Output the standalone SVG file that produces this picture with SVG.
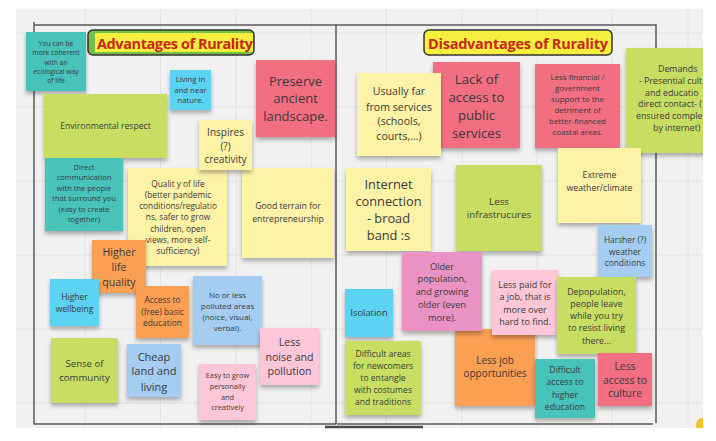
<svg xmlns="http://www.w3.org/2000/svg" width="716" height="441" viewBox="0 0 716 441">
<style>
text{font-family:"Open Sans","Liberation Sans",sans-serif;fill:#3a3a3a;text-anchor:middle;dominant-baseline:central}
.teal{fill:#47c3ba}
.lime{fill:#c8de62}
.cyan{fill:#5bd3f2}
.red{fill:#f26e81}
.yel{fill:#fdf3a7}
.org{fill:#fb9f52}
.blu{fill:#a5cdf2}
.pnk{fill:#fdc7d8}
.mau{fill:#ea92c3}
.note rect{filter:url(#sh)}
.fr{stroke:#5a5a5a;stroke-width:1.5;fill:none}
.grid{stroke:#e2e2e2;stroke-width:1}
.ttl{font-weight:bold;fill:#c8281e;font-size:14.5px}
</style>
<defs>
<filter id="sh" x="-10%" y="-10%" width="120%" height="135%">
<feDropShadow dx="0" dy="3" stdDeviation="2" flood-color="#000" flood-opacity="0.3"/>
</filter>
<clipPath id="cv"><rect x="16" y="9" width="687" height="419"/></clipPath>
</defs>
<rect width="716" height="441" fill="#ffffff"/>
<rect x="16" y="9" width="687" height="419" fill="#f1f1f1"/>
<g id="grid" class="grid" clip-path="url(#cv)">
<path d="M85 9V428M160.5 9V428M236 9V428M311 9V428M386.5 9V428M462 9V428M537 9V428M612 9V428M688 9V428M16 33H703M16 107H703M16 181H703M16 255H703M16 329H703M16 403H703"/>
</g>
<g id="frame">
<path class="fr" d="M34 22V424H336M34 25H656V423M336 25V424M337 424H653"/>
<path d="M325 427H423" stroke="#4a4a4a" stroke-width="2.5"/>
<circle cx="703" cy="425" r="7" fill="#f5c21e" clip-path="url(#cv)"/>
</g>
<g id="title-adv">
<rect x="88" y="30" width="166" height="25" rx="5" fill="#74c044" stroke="#333" stroke-width="1.5"/>
<rect x="95" y="33" width="158" height="19" fill="#f6ef3d"/>
<text class="ttl" x="175" y="43" textLength="156">Advantages of Rurality</text>
</g>
<g id="title-dis">
<rect x="424" y="30" width="188" height="25" rx="5" fill="#f6ef3d" stroke="#333" stroke-width="1.5"/>
<text class="ttl" x="518" y="43" textLength="180">Disadvantages of Rurality</text>
</g>
<g id="connectors"></g>

<g id="n1" class="note"><rect class="teal" x="26" y="32" width="60" height="59"/>
<text font-size="6.8"><tspan x="56" y="43">You can be</tspan><tspan x="56" y="52">more coherent</tspan><tspan x="56" y="62">with an</tspan><tspan x="56" y="71">ecological way</tspan><tspan x="56" y="80">of life</tspan></text></g>
<g id="n2" class="note"><rect class="lime" x="44" y="94" width="123" height="64"/>
<text font-size="8.6" x="105.5" y="126">Environmental respect</text></g>
<g id="n3" class="note"><rect class="cyan" x="170" y="70" width="41" height="40"/>
<text font-size="7.8"><tspan x="190.5" y="79">Living in</tspan><tspan x="190.5" y="90">and near</tspan><tspan x="190.5" y="100">nature.</tspan></text></g>
<g id="n4" class="note"><rect class="red" x="256" y="60" width="79" height="77"/>
<text font-size="13"><tspan x="295.5" y="81">Preserve</tspan><tspan x="295.5" y="98">ancient</tspan><tspan x="295.5" y="116">landscape.</tspan></text></g>
<g id="n6" class="note"><rect class="teal" x="45" y="158" width="78" height="73"/>
<text font-size="7.5"><tspan x="84" y="167">Direct</tspan><tspan x="84" y="177">communication</tspan><tspan x="84" y="188">with the people</tspan><tspan x="84" y="198">that surround you</tspan><tspan x="84" y="209">(easy to create</tspan><tspan x="84" y="219">together)</tspan></text></g>
<g id="n7" class="note"><rect class="yel" x="128" y="168" width="99" height="98"/>
<text font-size="8.3"><tspan x="178" y="183">Qualit y of life</tspan><tspan x="178" y="194">(better pandemic</tspan><tspan x="178" y="205">conditions/regulatio</tspan><tspan x="178" y="216">ns, safer to grow</tspan><tspan x="178" y="228">children, open</tspan><tspan x="178" y="239">views, more self-</tspan><tspan x="178" y="250">sufficiency)</tspan></text></g>
<g id="n8" class="note"><rect class="yel" x="242" y="168" width="92" height="90"/>
<text font-size="8.7"><tspan x="288" y="206">Good terrain for</tspan><tspan x="288" y="219">entrepreneurship</tspan></text></g>
<g id="n5" class="note"><rect class="yel" x="199" y="120" width="53" height="50"/>
<text font-size="10"><tspan x="225.5" y="132">Inspires</tspan><tspan x="225.5" y="146">(?)</tspan><tspan x="225.5" y="159">creativity</tspan></text></g>
<g id="n9" class="note"><rect class="org" x="92" y="240" width="54" height="53"/>
<text font-size="10.6"><tspan x="119" y="252">Higher</tspan><tspan x="119" y="267">life</tspan><tspan x="119" y="282">quality</tspan></text></g>
<g id="n10" class="note"><rect class="cyan" x="50" y="279" width="49" height="47"/>
<text font-size="8.5"><tspan x="74.5" y="296">Higher</tspan><tspan x="74.5" y="308">wellbeing</tspan></text></g>
<g id="n11" class="note"><rect class="org" x="136" y="286" width="53" height="52"/>
<text font-size="8.4"><tspan x="162.5" y="299">Access to</tspan><tspan x="162.5" y="311">(free) basic</tspan><tspan x="162.5" y="322">education</tspan></text></g>
<g id="n12" class="note"><rect class="blu" x="193" y="276" width="69" height="69"/>
<text font-size="8"><tspan x="227.5" y="294">No or less</tspan><tspan x="227.5" y="305">polluted areas</tspan><tspan x="227.5" y="316">(noice, visual,</tspan><tspan x="227.5" y="327">verbal).</tspan></text></g>
<g id="n13" class="note"><rect class="pnk" x="260" y="328" width="59" height="57"/>
<text font-size="10.6"><tspan x="289.5" y="342">Less</tspan><tspan x="289.5" y="357">noise and</tspan><tspan x="289.5" y="371">pollution</tspan></text></g>
<g id="n14" class="note"><rect class="lime" x="51" y="338" width="67" height="65"/>
<text font-size="9.6"><tspan x="84.5" y="363">Sense of</tspan><tspan x="84.5" y="377">community</tspan></text></g>
<g id="n15" class="note"><rect class="blu" x="127" y="344" width="54" height="53"/>
<text font-size="11"><tspan x="154" y="356">Cheap</tspan><tspan x="154" y="370">land and</tspan><tspan x="154" y="386">living</tspan></text></g>
<g id="n16" class="note"><rect class="pnk" x="199" y="364" width="57" height="56"/>
<text font-size="7.4"><tspan x="227.5" y="375">Easy to grow</tspan><tspan x="227.5" y="386">personally</tspan><tspan x="227.5" y="397">and</tspan><tspan x="227.5" y="407">creatively</tspan></text></g>

<g id="n18" class="note"><rect class="red" x="433" y="62" width="87" height="86"/>
<text font-size="13.2"><tspan x="476.5" y="79">Lack of</tspan><tspan x="476.5" y="97">access to</tspan><tspan x="476.5" y="115">public</tspan><tspan x="476.5" y="133">services</tspan></text></g>
<g id="n17" class="note"><rect class="yel" x="357" y="73" width="84" height="83"/>
<text font-size="10.6"><tspan x="399" y="91">Usually far</tspan><tspan x="399" y="107">from services</tspan><tspan x="399" y="121">(schools,</tspan><tspan x="399" y="136">courts,...)</tspan></text></g>
<g id="n19" class="note"><rect class="red" x="535" y="64" width="85" height="84"/>
<text font-size="7.9"><tspan x="577.5" y="77">Less financial /</tspan><tspan x="577.5" y="88">government</tspan><tspan x="577.5" y="99">support to the</tspan><tspan x="577.5" y="110">detriment of</tspan><tspan x="577.5" y="121">better-financed</tspan><tspan x="577.5" y="132">coastal areas.</tspan></text></g>
<g id="n20" class="note" clip-path="url(#cv)"><rect class="lime" x="626" y="48" width="90" height="105"/>
<text font-size="8.8" style="text-anchor:start"><tspan x="658" y="69">Demands</tspan><tspan x="639" y="81">- Presential cult</tspan><tspan x="645" y="93">and educatio</tspan><tspan x="638" y="104">direct contact- (</tspan><tspan x="636" y="116">ensured  comple</tspan><tspan x="653" y="128">by internet)</tspan></text></g>
<g id="n21" class="note"><rect class="yel" x="346" y="168" width="85" height="83"/>
<text font-size="12.8"><tspan x="388.5" y="184">Internet</tspan><tspan x="388.5" y="201">connection</tspan><tspan x="388.5" y="218">- broad</tspan><tspan x="388.5" y="235">band :s</tspan></text></g>
<g id="n22" class="note"><rect class="lime" x="456" y="165" width="86" height="86"/>
<text font-size="9.8"><tspan x="499" y="201">Less</tspan><tspan x="499" y="214">infrastrucures</tspan></text></g>
<g id="n23" class="note"><rect class="yel" x="558" y="148" width="83" height="75"/>
<text font-size="8.7"><tspan x="599.5" y="175">Extreme</tspan><tspan x="599.5" y="188">weather/climate</tspan></text></g>
<g id="n24" class="note"><rect class="blu" x="598" y="225" width="54" height="52"/>
<text font-size="8.4"><tspan x="625" y="239">Harsher (?)</tspan><tspan x="625" y="251">weather</tspan><tspan x="625" y="262">conditions</tspan></text></g>
<g id="n30" class="note"><rect class="org" x="455" y="329" width="80" height="77"/>
<text font-size="10"><tspan x="495" y="360">Less job</tspan><tspan x="495" y="373">opportunities</tspan></text></g>
<g id="n25" class="note"><rect class="mau" x="402" y="252" width="80" height="79"/>
<text font-size="9.2"><tspan x="442" y="266">Older</tspan><tspan x="442" y="278">population,</tspan><tspan x="442" y="291">and growing</tspan><tspan x="442" y="304">older (even</tspan><tspan x="442" y="317">more).</tspan></text></g>
<g id="n26" class="note"><rect class="pnk" x="492" y="270" width="66" height="65"/>
<text font-size="9"><tspan x="525" y="284">Less paid for</tspan><tspan x="525" y="296">a job, that is</tspan><tspan x="525" y="309">more over</tspan><tspan x="525" y="321">hard to find.</tspan></text></g>
<g id="n27" class="note"><rect class="lime" x="557" y="277" width="79" height="77"/>
<text font-size="8.9"><tspan x="596.5" y="291">Depopulation,</tspan><tspan x="596.5" y="303">people leave</tspan><tspan x="596.5" y="315">while you try</tspan><tspan x="596.5" y="327">to resist living</tspan><tspan x="596.5" y="340">there...</tspan></text></g>
<g id="n28" class="note"><rect class="cyan" x="345" y="289" width="48" height="48"/>
<text font-size="9.4" x="369" y="312">Isolation</text></g>
<g id="n29" class="note"><rect class="lime" x="345" y="341" width="76" height="74"/>
<text font-size="8.6"><tspan x="383" y="354">Difficult areas</tspan><tspan x="383" y="366">for newcomers</tspan><tspan x="383" y="378">to entangle</tspan><tspan x="383" y="390">with costumes</tspan><tspan x="383" y="402">and traditions</tspan></text></g>
<g id="n31" class="note"><rect class="teal" x="535" y="359" width="60" height="59"/>
<text font-size="8.7"><tspan x="565" y="370">Difficult</tspan><tspan x="565" y="382">access to</tspan><tspan x="565" y="395">higher</tspan><tspan x="565" y="407">education</tspan></text></g>
<g id="n32" class="note"><rect class="red" x="598" y="353" width="54" height="53"/>
<text font-size="10.4"><tspan x="625" y="366">Less</tspan><tspan x="625" y="380">access to</tspan><tspan x="625" y="393">culture</tspan></text></g>
</svg>
